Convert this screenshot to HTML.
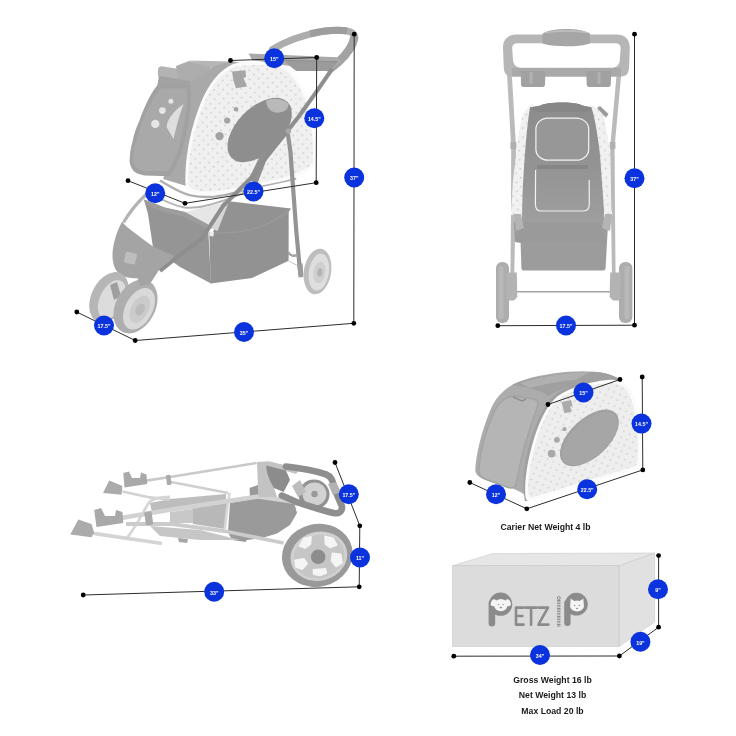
<!DOCTYPE html>
<html><head><meta charset="utf-8">
<style>
html,body{margin:0;padding:0;background:#fff;}
body{width:736px;height:736px;overflow:hidden;font-family:"Liberation Sans",sans-serif;}
svg{display:block;position:absolute;left:0;top:0;}
.ln{stroke:#2c2c2c;stroke-width:1;fill:none;}
.dt{fill:#000;}
.bc{fill:#0b33dd;}
.bt{fill:#fff;font-family:"Liberation Sans",sans-serif;font-weight:bold;font-size:5.3px;text-anchor:middle;}
.cap{fill:#1a1a1a;font-family:"Liberation Sans",sans-serif;font-weight:bold;font-size:8.7px;text-anchor:middle;}
</style></head>
<body>
<svg width="736" height="736" viewBox="0 0 736 736">
<defs>
<pattern id="dots" width="9" height="9" patternUnits="userSpaceOnUse" patternTransform="rotate(-3)">
<circle cx="2.2" cy="2.2" r="0.85" fill="#cacaca"/><circle cx="6.7" cy="6.7" r="0.85" fill="#cacaca"/>
</pattern>
<filter id="soft"><feGaussianBlur stdDeviation="0.45"/></filter>
<filter id="soft2"><feGaussianBlur stdDeviation="0.28"/></filter>
<pattern id="dots2" width="9" height="9" patternUnits="userSpaceOnUse" patternTransform="rotate(-20)">
<circle cx="2.2" cy="2.2" r="0.9" fill="#cfcfcf"/><circle cx="6.7" cy="6.7" r="0.9" fill="#cfcfcf"/>
</pattern>
<linearGradient id="gbody" x1="0" y1="0" x2="0" y2="1"><stop offset="0" stop-color="#8c8c8c"/><stop offset="0.5" stop-color="#939393"/><stop offset="1" stop-color="#9f9f9f"/></linearGradient>
</defs>
<rect width="736" height="736" fill="#fff"/>

<!--PRODUCTS-->
<g id="products" filter="url(#soft)">
<!--TL-->
<g id="tl">
<!-- handle top arc -->
<path d="M272.5 49.5C284 42 300 35.6 322 31.6C336 29.6 348 29.6 352.6 33.2C354.6 35 354.8 37.5 354 40" stroke="#adadad" stroke-width="7" fill="none" stroke-linecap="round"/>
<path d="M310 33.6C322 31 338 29.6 347 31" stroke="#9d9d9d" stroke-width="7" fill="none"/>
<path d="M354.2 38C353 45 347 54 339 61.5L330.5 68.5" stroke="#a2a2a2" stroke-width="8.4" fill="none" stroke-linecap="round"/>
<!-- tray -->
<path d="M248.6 53.5L337 57.2L342 61.5L329.5 71L296.5 71L290 66L252 60Z" fill="#a9a9a9"/>
<path d="M285 60.5L338 61.7L329.5 71L296.5 71L290 66Z" fill="#9b9b9b"/>
<path d="M252 59.7L337 61.7" stroke="#8f8f8f" stroke-width="1" fill="none"/>
<!-- rear wheel -->
<g transform="rotate(9 317.5 271.5)">
<ellipse cx="317.5" cy="271.5" rx="13.6" ry="23" fill="#bdbdbd"/>
<ellipse cx="319" cy="271.8" rx="10" ry="18.6" fill="#dedede"/>
<ellipse cx="319.6" cy="272" rx="6" ry="11" fill="#cfcfcf"/>
<ellipse cx="320" cy="272" rx="2.6" ry="4.2" fill="#b4b4b4"/>
</g>
<!-- carrier support bars -->
<path d="M160 180.6C172 188 182 193.6 190.6 195.4C200 197.2 208 197.2 215 196.6C224 195.6 230 194.2 236 192.4L264.4 185.4L296.2 178.6" stroke="#b0b0b0" stroke-width="2.4" fill="none"/>
<path d="M150 193C162 200 174 205.6 184.4 207.5C194 208.6 202 207 208.9 205C216 203 222 201 228.5 198.9L246 192" stroke="#b3b3b3" stroke-width="2" fill="none"/>
<!-- basket -->
<path d="M227 201L291 208.4L288.7 212L262 236L212 236L222 203Z" fill="#929292"/>
<path d="M222 203L228.5 203L217.5 231L210 228Z" fill="#d6d6d6"/>
<path d="M185 212L222 203L210.6 226.5Z" fill="#e6e6e6"/>
<path d="M144 199.6L164.5 207.6L184.8 212L208 224.4L211 283.6L180 267L153 247.5L148 214Z" fill="#959595"/>
<path d="M144 199.6L164.5 207.6L184.8 212L208 224.4L208.4 229.6L184.8 217L164.5 212.4L145.5 204.8Z" fill="#9d9d9d"/>
<path d="M209.3 232.6C230 234 262 232 288.7 210.7L288.6 260.8L252 278L210.6 283.6Z" fill="#929292"/>
<path d="M209.3 232.6C230 234 262 232 288.7 210.7" stroke="#9b9b9b" stroke-width="1.3" fill="none"/>
<path d="M209.5 231L214 232.2L213.4 236.4L209.6 236Z" fill="#eee"/>
<!-- footrest -->
<path d="M122 221.8C127 228 140 237 153 246.5L171 254.5L175 256C168 262 160 268 157 273C155 276.5 150 278.3 139 278.3C130 278.6 122 277 118 272.5C113.5 268 112 260 112.6 252C113.5 242 117 231 122 221.8Z" fill="#a4a4a4"/>
<rect x="124.7" y="252.5" width="11.5" height="11" rx="1.5" fill="#bdbdbd" transform="rotate(14 130 258)"/>
<!-- front fork tube -->
<path d="M146 194.5C137 203 129 213 123.5 222.5" stroke="#b4b4b4" stroke-width="3.2" fill="none"/>
<!-- carrier: roll/top -->
<path d="M158 70C158 67 160.5 66 163 66.4L176 68.6C178.5 69 179.5 71 179 73.5L178.4 78C178 80 176 80.4 174 80L160 77.6C158 77.2 157.6 75 158 70Z" fill="#b3b3b3"/>
<path d="M176 66L189 61L212 66.5L206 73L190.5 84L178 80Z" fill="#adadad"/>
<path d="M188.4 60.4L230 61.5L212 67.6Z" fill="#b6b6b6"/>
<!-- carrier strip between panel and D -->
<path d="M190 83.6L213 66.5L231 61L244 63.5C228 66 216 80 206 99C196 121 189 148 186 174L186.5 186L163 179C172 160 181 130 187 103Z" fill="#a9a9a9"/>
<path d="M186 181C187 150 195 120 206 98C216 79 229 66 245 63.4" fill="none" stroke="#9d9d9d" stroke-width="2.6"/>
<path d="M159 76L190 81L190.5 87L157 87Z" fill="#a2a2a2"/>
<!-- front panel -->
<path d="M158 84.5L189.8 84.5C191 90 191 97 190.7 103C189.6 115 188 125 187.1 129.5C185 140 183 148 180 156C177 164 174 170 171.2 173.7L169.5 176.3L144.7 175.4C138 174.6 133 172 131.4 167.6C129.6 164 129.3 161 129.7 158.5C130 152 131 147 132.4 141.9C134 134 136 128 139.4 120.7C142 113 145 106 148.3 99.5C151 94 154 89 158 84.5Z" fill="#a1a1a1"/>
<path d="M160.5 88.5L186.6 88.5C187.6 96 187 104 186 112C184.5 124 181.5 140 177 153C174.5 160 171.5 166 168 171.5L146 171C139 170.4 134.6 167.5 133.6 163.5C132.4 158 134 149 136 141.5C139 130 144 116 150 104.5C153 98.5 156.5 93 160.5 88.5Z" fill="#a9a9a9"/>
<circle cx="170.9" cy="101.2" r="2.5" fill="#e6e6e6"/><circle cx="162.4" cy="110.6" r="3.3" fill="#e6e6e6"/><circle cx="155.3" cy="123.9" r="4.2" fill="#e6e6e6"/>
<path d="M183.6 103.9C172.5 111.5 166 121.5 166.8 127.5L173.5 139C176 128 180 113 183.6 103.9Z" fill="#dedede"/>
<!-- side D -->
<path d="M186.6 188.4C185.2 186 185.2 180 185.3 176C186 150 192 125 200.5 103.5C208 85 219 70.5 232 64.5C238 62 250 61.5 262 62C274 62.5 283 64 288 68C297 75 304.5 88 309.5 104C314 119 316.2 140 316 156C316 163 314.6 167.4 311 169.8C306 173 300 176 294 178.2C284 181 274 183 264 185C252 187.8 242 190.2 233 191.6C226 193.2 220 194.2 214 194.4C206 194.6 200 194.4 196 193.4C191 192.2 188 190.6 186.6 188.4Z" fill="#fbfbfb"/>
<path d="M189.4 186.2C188.4 184.4 188.2 179 188.3 175C189 150.5 194.8 126 203.2 104.8C210.4 87 220.8 73.4 233.2 67.6C239 65.2 250 64.6 262 65.1C273 65.6 281.4 67 286 70.6C294.4 77.2 301.8 89.6 306.6 105C311 119.6 313.2 140 313 155C313 161 312 164.6 309.2 166.6C304.6 169.8 299 172.8 293 175C283.4 177.8 273.4 179.8 263.4 181.8C251.4 184.6 241.4 187 232.4 188.4C225.6 190 219.8 191 214 191.2C206.4 191.4 200.8 191.2 197 190.4C193 189.6 190.6 188.2 189.4 186.2Z" fill="#f0f0f0"/>
<path d="M189.4 186.2C188.4 184.4 188.2 179 188.3 175C189 150.5 194.8 126 203.2 104.8C210.4 87 220.8 73.4 233.2 67.6C239 65.2 250 64.6 262 65.1C273 65.6 281.4 67 286 70.6C294.4 77.2 301.8 89.6 306.6 105C311 119.6 313.2 140 313 155C313 161 312 164.6 309.2 166.6C304.6 169.8 299 172.8 293 175C283.4 177.8 273.4 179.8 263.4 181.8C251.4 184.6 241.4 187 232.4 188.4C225.6 190 219.8 191 214 191.2C206.4 191.4 200.8 191.2 197 190.4C193 189.6 190.6 188.2 189.4 186.2Z" fill="url(#dots)"/>
<!-- buckle + buttons -->
<path d="M232 71.5L245.5 70.3L246 77L243.5 78L247 86.5L236 88.2L233.5 81Z" fill="#a6a6a6"/>
<circle cx="236" cy="109.3" r="2.3" fill="#a3a3a3"/><circle cx="227.2" cy="120.5" r="3.1" fill="#a3a3a3"/><circle cx="219.6" cy="136.1" r="4.2" fill="#a3a3a3"/>
<!-- oval -->
<ellipse cx="259.8" cy="129.6" rx="39.6" ry="22.6" transform="rotate(-45 260.2 130)" fill="#8e8e8e"/>
<path d="M266 101C272 97.5 283 98 288.4 104C289 109 284 112.6 277 112.8C271 112.6 266.6 108 266 101Z" fill="#b9b9b9"/>
<!-- rear leg -->
<path d="M287.4 131L290.4 151.4L293 186.7L296.2 230.2L300.4 275" stroke="#949494" stroke-width="4.2" fill="none" stroke-linejoin="round"/>
<path d="M288 260.5L299 266.5" stroke="#c4c4c4" stroke-width="1"/>
<path d="M288.5 252C289.5 255.5 293 256.5 297.5 255" stroke="#a2a2a2" stroke-width="2.4" fill="none"/>
<path d="M297.2 264L302.6 263.6L303.4 277L298.6 277.4Z" fill="#9c9c9c"/>
<path d="M262.6 150L269 153.6L257.6 183L248.4 180Z" fill="#909090"/>
<!-- main diagonal frame tube -->
<path d="M332.2 68.8L316 92.3L298.6 116.7L284.2 135L264.6 159.5L251 178L222.8 206.3L201.7 238.9L180 254.6L160 271" stroke="#8e8e8e" stroke-width="4.1" fill="none" stroke-linejoin="round"/>
<circle cx="288.4" cy="131" r="2.8" fill="#a9a9a9"/>
<!-- front wheels -->
<g transform="rotate(26 109 297.5)">
<ellipse cx="109" cy="297.5" rx="17.6" ry="27" fill="#b6b6b6"/>
<ellipse cx="112.5" cy="298" rx="12" ry="20.6" fill="#dcdcdc"/>
</g>
<path d="M110 285L117 282L121 296L114 300Z" fill="#9f9f9f"/>
<g transform="rotate(28 135.5 306.5)">
<ellipse cx="135.5" cy="306.5" rx="19.8" ry="28.6" fill="#aeaeae"/>
<ellipse cx="139.6" cy="306.8" rx="13.6" ry="22.4" fill="#d9d9d9"/>
<ellipse cx="140.4" cy="307" rx="8.6" ry="14.6" fill="#cbcbcb"/>
<ellipse cx="141" cy="307" rx="4.4" ry="6.2" fill="#bbbbbb"/>
</g>
<path d="M137 276L157 273L150 284L140 286Z" fill="#a4a4a4"/>
</g>
<!--TR-->
<g id="front">
<!-- side tubes -->
<path d="M506.8 70L511.6 70L516 147L515.5 215L514.2 276L510.4 276L511 215L511.2 147Z" fill="#bababa"/>
<path d="M617 70L621.6 70L614.6 147L615 215L615.6 276L612 276L611 215L610.2 147Z" fill="#bababa"/>
<rect x="510.4" y="142" width="6" height="7" fill="#b0b0b0"/><rect x="609.8" y="142" width="5.6" height="7" fill="#b0b0b0"/>
<!-- dotted side strips -->
<path d="M532 103.5C527 108 524.5 111 523.2 114.3C520.5 123 518.8 133 517.7 141.5L513 180L510.8 215L526 215L530 165L536 108Z" fill="#f1f1f1"/>
<path d="M532 103.5C527 108 524.5 111 523.2 114.3C520.5 123 518.8 133 517.7 141.5L513 180L510.8 215L526 215L530 165L536 108Z" fill="url(#dots)"/>
<path d="M590 105C597 108 601.5 111 603.3 114C606 125 608.5 140 610 152L611.4 209L612.6 215L598 215L596 165L588 108Z" fill="#f1f1f1"/>
<path d="M590 105C597 108 601.5 111 603.3 114C606 125 608.5 140 610 152L611.4 209L612.6 215L598 215L596 165L588 108Z" fill="url(#dots)"/>
<!-- handle -->
<path fill-rule="evenodd" fill="#b6b6b6" d="M503 48C503 39 508 34.5 517 34.5L616 34.5C625 34.5 629.8 39 629.8 48L629 68C628.6 74 626 76.4 621 76.4L512 76.4C507 76.4 504.2 74 503.8 68ZM512.2 49L513 60C513.6 65.5 517 67.8 522 67.8L611 67.8C616 67.8 619.4 65.5 619.8 60L620.6 49C620.9 45 619 43.2 615 43.2L518 43.2C514 43.2 512 45 512.2 49Z"/>
<path d="M512 68L621 68L621 76.4L512 76.4Z" fill="#a9a9a9"/>
<!-- grip -->
<path d="M542.5 33.5C550 29.5 560 29 566 29C574 29 583 29.8 590 33.5L590 43.5C583 46 574 46.2 566 46.2C558 46.2 550 45.8 542.5 43.5Z" fill="#a6a6a6"/>
<path d="M546 32.8C556 30.2 576 30.2 587 32.8" fill="none" stroke="#bdbdbd" stroke-width="1.6"/>
<!-- cup holders -->
<path d="M520.7 71L545.4 71L545 84.5C545 86.5 543.6 87 541.5 87L524.5 87C522.4 87 521 86.5 521 84.5Z" fill="#a1a1a1"/>
<path d="M586.3 71L611.2 71L610.8 84.5C610.8 86.5 609.4 87 607.3 87L590.2 87C588.1 87 586.7 86.5 586.7 84.5Z" fill="#a1a1a1"/>
<rect x="529.5" y="72" width="3" height="12" fill="#b2b2b2"/><rect x="597.5" y="72" width="3" height="12" fill="#b2b2b2"/>
<!-- basket upper -->
<path d="M513.8 222L608.2 222L607 242L605.6 268C605.4 270.3 604 270.6 602 270.6L525 270.6C523 270.6 521.6 270.3 521.4 268L520.6 243L515 242Z" fill="#9c9c9c"/>
<!-- body -->
<path d="M540.7 105.6C546 101.6 577 101.6 582.6 105.6L591.5 107.5C595 118 598.5 140 600 155L604 210L604 226L521.8 226L522.4 200C524 160 527 125 530 107.5Z" fill="url(#gbody)"/>
<path d="M540.7 105.6C546 101.6 577 101.6 582.6 105.6L591.5 107.5L586 112L537 112L530 107.5Z" fill="#878787"/>
<path d="M524 222L599.5 222L606 242L516 242Z" fill="#9a9a9a"/>
<!-- clips -->
<path d="M514 214L521 214L524 228L516 231Z" fill="#b4b4b4"/><path d="M612 214L605 214L602 228L610 231Z" fill="#b4b4b4"/>
<path d="M597 108L600 106L608.5 114L606 117.5Z" fill="#9a9a9a"/>
<!-- window -->
<rect x="535.9" y="118.2" width="52.8" height="42" rx="12" ry="11" fill="#979797" stroke="#f4f4f4" stroke-width="1.2"/>
<!-- pocket -->
<path d="M535.6 170L535.4 204C535.4 209 537.5 211 541 211L583.5 211C587 211 589.3 209 589.3 204L589.2 180" fill="none" stroke="#f2f2f2" stroke-width="1.2"/>
<rect x="537" y="165" width="51" height="4" fill="#868686"/>
<!-- wheels -->
<rect x="496" y="262" width="13" height="61" rx="6" fill="#adadad"/>
<rect x="619" y="262" width="13.4" height="61" rx="6" fill="#adadad"/>
<rect x="498.5" y="266" width="5" height="53" rx="2.5" fill="#b8b8b8"/>
<rect x="624.5" y="266" width="5" height="53" rx="2.5" fill="#b8b8b8"/>
<!-- brackets -->
<path d="M506.5 272.5L516.8 272.5L517.3 297L514 300.5L507 300.5Z" fill="#b3b3b3"/>
<path d="M620.8 272.5L610.2 272.5L609.6 297L613 300.5L620 300.5Z" fill="#b3b3b3"/>
<path d="M517 291.8L610 291.8" stroke="#a4a4a4" stroke-width="1.6"/>
</g>
<!--BL-->
<g id="folded">
<!-- light fabric upper -->
<path d="M150 503L170 499L226 494L226 506L170 511L152 513Z" fill="#bdbdbd"/>
<path d="M170 512L193 509L193 523L170 523Z" fill="#c8c8c8"/>
<!-- folded basket fabric -->
<path d="M193 509L227 503L225 529L193 524Z" fill="#b8b8b8"/>
<path d="M230 503L258 498L294 502L297 513L290 525L277 533.5L262 538L247 540L228 531Z" fill="#9a9a9a"/>
<path d="M249.5 488L258 485L262 494L250 497Z" fill="#999"/>
<path d="M228.3 532.7L247.7 536L246 542L232 540Z" fill="#9a9a9a"/>
<path d="M178 538L188 539L187 543L179 542Z" fill="#a6a6a6"/>
<path d="M150 526L200 530L240 540L200 540L160 536Z" fill="#c6c6c6"/>
<!-- thin upper tubes -->
<path d="M146.3 480.6L170 477L256.6 463" stroke="#c9c9c9" stroke-width="2.6" fill="none"/>
<path d="M168.4 481.5L228.3 493" stroke="#cfcfcf" stroke-width="2.4" fill="none"/>
<path d="M122.4 491.5L149.8 497.4L170 499.5" stroke="#d2d2d2" stroke-width="2.6" fill="none"/>
<!-- curved tube -->
<path d="M170 497C158 497 151 499 148 504C141 516 134 530 126.8 538" stroke="#d6d6d6" stroke-width="2.8" fill="none"/>
<!-- vertical connector -->
<path d="M229.6 493L227 510L224.8 529.2" stroke="#d8d8d8" stroke-width="2.6" fill="none"/>
<!-- main tubes -->
<path d="M122.4 517.7L170 509.8L258.3 496.5L296 502" stroke="#d2d2d2" stroke-width="4.6" fill="none" stroke-linejoin="round"/>
<path d="M95 533.6L160.4 543.3" stroke="#d4d4d4" stroke-width="3.6" fill="none" stroke-linecap="round"/>
<path d="M126 524L170 523.9L224 531L283.6 543" stroke="#cbcbcb" stroke-width="3.8" fill="none" stroke-linejoin="round"/>
<!-- feet and clips -->
<path d="M103 493L109.2 480.6L122.4 485.9L121.5 494.8Z" fill="#ababab"/>
<path d="M123.3 473L129 471.5L132 478L140 478L141 472.5L146.5 474.5L147.2 484L124.5 487.5Z" fill="#a9a9a9"/>
<path d="M70.3 534.5L78.3 519.5L91.5 523.9L94.2 532.7L91.5 537.2Z" fill="#ababab"/>
<path d="M94.2 510L101 508L105 516L115 516L116 510L122.5 512L123.3 523L96.5 527Z" fill="#a9a9a9"/>
<rect x="166.4" y="475" width="4.6" height="10" rx="1" fill="#aaa" transform="rotate(-8 168.4 480)"/>
<rect x="145" y="511.5" width="7.4" height="13.5" rx="1.2" fill="#aaa" transform="rotate(-8 148.7 518)"/>
<!-- tray -->
<path d="M257 462L269 461.2L300 469L296 474L276 468L271 478L277 497L258.3 497Z" fill="#c3c3c3"/>
<path d="M266.3 465.6L286 470.5L290 480L283.6 492L274 488C269 480 266 472 266.3 465.6Z" fill="#8c8c8c"/>
<!-- small inner wheel -->
<ellipse cx="314" cy="494.5" rx="15.5" ry="15" fill="#929292"/>
<ellipse cx="314.5" cy="494" rx="12" ry="11.5" fill="#d2d2d2"/>
<circle cx="314.5" cy="494" r="3.2" fill="#9a9a9a"/>
<path d="M292 486L300 480L306 492L298 497Z" fill="#bdbdbd"/>
<!-- handle loop -->
<path d="M286 466.5C300 468 316 471 326 474.4C331 476.5 332.5 480 334 486C336 494 339.5 500 341.9 506.2C342.6 510.5 340 513.5 334.8 513.3C318 509.5 305 504.5 296 501.8L281.8 495.6" stroke="#8e8e8e" stroke-width="6.6" fill="none" stroke-linejoin="round" stroke-linecap="round"/>
<path d="M328 484L336 482L341 492L333 495Z" fill="#b3b3b3"/>
<!-- big wheel -->
<g transform="rotate(-14 317.3 555.4)">
<ellipse cx="317.3" cy="555.4" rx="35.6" ry="31.4" fill="#999999"/>
<ellipse cx="318.6" cy="556.6" rx="28.6" ry="24.4" fill="#d0d0d0"/>
<ellipse cx="318.8" cy="556.8" rx="25.6" ry="21.4" fill="#c6c6c6"/>
</g>
<g fill="#f5f5f5" stroke="#f5f5f5" stroke-width="1.6" stroke-linejoin="round">
<path d="M299.5 546L304 538.5L311 536.8L310.5 544L305 548Z"/>
<path d="M325 536.4L333 538.2L336.8 545L330 547.4L325.5 544Z"/>
<path d="M332.4 553.4L340.6 554.4L342 563L336 566.6L331.6 561Z"/>
<path d="M313.4 569.8L325.4 568.8L326.4 573L320 575.4L313.8 574.2Z"/>
<path d="M295 560.2L304 558.8L307.2 564L302 569.2L296 567Z"/>
</g>
<circle cx="318.2" cy="556.8" r="7.3" fill="#8d8d8d"/>
</g>
<!--CARRIER-->
<g id="carrier">
<!-- outer silhouette (roof + front) -->
<path d="M475.2 471C475.8 455 481.5 431 490.5 409.8C497 394.5 507.5 385 526 379.3C548 372.5 585 368.5 606 373.5C613 375.5 618 377.5 621.5 380.5L560 400L530 500C524 492 512 487.5 496 483.3C486 480.5 477 478 475.2 471Z" fill="#acacac"/>
<!-- roof darker top band -->
<path d="M512 385C530 376 585 369 606 373.5C613 375.5 618 377.5 621.5 380.5C600 377.5 570 383 548 396C542 390 520 386 512 385Z" fill="#a0a0a0"/>
<path d="M520 383C540 376.5 570 372 590 372L575 380C560 381 540 385 530 388Z" fill="#b0b0b0"/>
<!-- front panel -->
<path d="M479 469C480 452 486 430 494 412C499 402 506 396.5 515 396L533 399C538 400 539 403 537 408C528 432 520 462 516 484C515 488 512 488.5 508 487.5L484 478.5C480 477 478.8 474 479 469Z" fill="#b5b5b5" stroke="#a3a3a3" stroke-width="1.4"/>
<path d="M513 397L522 401L526 399" fill="none" stroke="#8f8f8f" stroke-width="1.4"/>
<!-- edge band near D -->
<path d="M526.6 501C522.5 480 526 460 533.3 436.3C539 420 546 404.5 556.7 395.6C572 385 592 380 608 378.5" fill="none" stroke="#a0a0a0" stroke-width="3.4"/>
<!-- side D -->
<path id="cD" d="M530 501.2C526.8 501.5 525.3 499 525.2 494C524.6 478 527.6 460 534.3 437.5C540 420.5 546.6 405.5 557.2 396.4C571 386.5 591 381.6 607 379.9C618.5 378.6 626.5 382 631.6 391C637.5 403 640.6 424 641 445C641.1 456 640.8 462 640 465.5C639.5 467.8 638.6 468.7 636.5 469.3Z" fill="#fbfbfb"/>
<path d="M531.5 497.6C529.2 497.8 528.2 496 528.1 492.6C527.7 478 530.4 460.5 536.8 439C542.3 422.5 548.6 408 558.7 399.2C572 389.7 591.4 385 606.8 383.3C616.8 382.2 624 385.4 628.8 393.6C634.4 405 637.4 424.5 637.8 445C637.9 455 637.7 460.5 637 463.6C636.6 465.4 635.9 466.2 634.4 466.6Z" fill="#eeeeee"/>
<path d="M531.5 497.6C529.2 497.8 528.2 496 528.1 492.6C527.7 478 530.4 460.5 536.8 439C542.3 422.5 548.6 408 558.7 399.2C572 389.7 591.4 385 606.8 383.3C616.8 382.2 624 385.4 628.8 393.6C634.4 405 637.4 424.5 637.8 445C637.9 455 637.7 460.5 637 463.6C636.6 465.4 635.9 466.2 634.4 466.6Z" fill="url(#dots2)"/>
<!-- oval -->
<ellipse cx="589.4" cy="437.9" rx="36.2" ry="19.2" transform="rotate(-43 589.4 437.9)" fill="#a1a1a1"/>
<ellipse cx="589.8" cy="438.6" rx="34.4" ry="17.4" transform="rotate(-43 589.8 438.6)" fill="#a6a6a6"/>
<!-- buttons -->
<circle cx="564.5" cy="429.2" r="2.1" fill="#a9a9a9"/><circle cx="556.9" cy="439.8" r="2.9" fill="#a9a9a9"/><circle cx="551.6" cy="453.6" r="3.9" fill="#a9a9a9"/>
<!-- buckle -->
<path d="M561.5 402L571 400L572.6 405.5L570 407L572 411.5L564.5 413.2Z" fill="#ababab"/>
</g>
<!--BOX-->
<g id="box">
<polygon points="452.5,565.8 492.5,553.6 654.6,553 619,566" fill="#e6e6e6" stroke="#c9c9c9" stroke-width="0.6"/>
<polygon points="619,566 654.6,553 654.6,622 619,646.5" fill="#e1e1e1" stroke="#c9c9c9" stroke-width="0.6"/>
<rect x="452.5" y="565.8" width="166.5" height="80.7" fill="#dcdcdc" stroke="#c6c6c6" stroke-width="0.6"/>
<g fill="#8b8b8b" stroke="none">
<!-- left P -->
<rect x="488.6" y="600" width="6.6" height="26.6" rx="3.3"/>
<circle cx="500.6" cy="604.2" r="11.6"/>
<!-- dog face -->
<g fill="#f4f4f4">
<ellipse cx="500.8" cy="605.6" rx="6.6" ry="5.6"/>
<ellipse cx="493.6" cy="602.8" rx="2.6" ry="3.6" transform="rotate(25 493.6 602.8)"/>
<ellipse cx="508" cy="602.8" rx="2.6" ry="3.6" transform="rotate(-25 508 602.8)"/>
<path d="M494.5 601.5Q500.8 596.5 507 601.5L505 604L496.5 604Z"/>
</g>
<circle cx="498.4" cy="604.6" r="0.7"/><circle cx="503.2" cy="604.6" r="0.7"/><ellipse cx="500.8" cy="607.6" rx="1.2" ry="0.8"/>
<!-- right P -->
<rect x="564.2" y="600" width="6.4" height="26" rx="3.2"/>
<circle cx="576.4" cy="604.2" r="11.4"/>
<g fill="#f4f4f4">
<ellipse cx="577" cy="606" rx="7" ry="5.4"/>
<path d="M570.3 605L570.6 598.6L575 601.6Z"/><path d="M583.7 605L583.4 598.6L579 601.6Z"/>
</g>
<circle cx="574.6" cy="605.4" r="0.7"/><circle cx="579.4" cy="605.4" r="0.7"/><ellipse cx="577" cy="608.4" rx="1" ry="0.7"/>
</g>
<!-- ETZ -->
<g fill="none" stroke="#8b8b8b" stroke-width="2.6" stroke-linecap="round" stroke-linejoin="round">
<path d="M523.6 607.6L516 607.6L516 624.6L523.6 624.6M516 616L522.4 616"/>
<path d="M525.6 607.6L536.6 607.6M531.1 607.6L531.1 624.8"/>
<path d="M538.6 607.6L548 607.6L538.4 624.6L548.4 624.6"/>
</g>
<!-- zipper i -->
<g fill="none" stroke="#8b8b8b">
<circle cx="558.8" cy="598" r="1.5" stroke-width="1"/>
<path d="M558.8 600L558.8 627" stroke-width="3.4" stroke-dasharray="0.9 0.7"/>
</g>
</g>
</g>

<!-- DIMENSIONS -->
<g id="dims">
<!-- TL stroller -->
<path class="ln" d="M230.5 60.5L316.7 57.5L316.2 182.7L185 203.3L128 180.7M354.2 34.2L353.8 323.3L135.2 340.5L76.8 312"/>
<g class="dt"><circle cx="230.5" cy="60.5" r="2.4"/><circle cx="316.7" cy="57.5" r="2.4"/><circle cx="316.2" cy="182.7" r="2.4"/><circle cx="185" cy="203.3" r="2.4"/><circle cx="128" cy="180.7" r="2.4"/><circle cx="354.2" cy="34.2" r="2.4"/><circle cx="353.8" cy="323.3" r="2.4"/><circle cx="135.2" cy="340.5" r="2.4"/><circle cx="76.8" cy="312" r="2.4"/></g>
<g class="bc"><circle cx="274.2" cy="58.2" r="10"/><circle cx="314.3" cy="118.3" r="10"/><circle cx="354.2" cy="177.5" r="10"/><circle cx="253.5" cy="191.5" r="10"/><circle cx="155.2" cy="193.2" r="10"/><circle cx="104" cy="325.5" r="10"/><circle cx="244" cy="332" r="10"/></g>
<g class="bt"><text x="274.2" y="60.9">15"</text><text x="314.3" y="121">14.5"</text><text x="354.2" y="180.2">37"</text><text x="253.5" y="194.2">22.5"</text><text x="155.2" y="195.9">12"</text><text x="104" y="328.2">17.5"</text><text x="244" y="334.7">35"</text></g>
<!-- TR front -->
<path class="ln" d="M634.5 34.2L634.5 325.2L497.8 325.7"/>
<g class="dt"><circle cx="634.5" cy="34.2" r="2.4"/><circle cx="634.5" cy="325.2" r="2.4"/><circle cx="497.8" cy="325.7" r="2.4"/></g>
<g class="bc"><circle cx="634.5" cy="178.2" r="10"/><circle cx="566" cy="325.5" r="10"/></g>
<g class="bt"><text x="634.5" y="180.9">37"</text><text x="566" y="328.2">17.5"</text></g>
<!-- BL folded -->
<path class="ln" d="M83.2 595L359.2 586.8L359.8 525.8L335 462.5"/>
<g class="dt"><circle cx="83.2" cy="595" r="2.4"/><circle cx="359.2" cy="586.8" r="2.4"/><circle cx="359.8" cy="525.8" r="2.4"/><circle cx="335" cy="462.5" r="2.4"/></g>
<g class="bc"><circle cx="214.2" cy="591.8" r="10"/><circle cx="348.8" cy="494.2" r="10"/><circle cx="360" cy="557.5" r="10"/></g>
<g class="bt"><text x="214.2" y="594.5">33"</text><text x="348.8" y="496.9">17.5"</text><text x="360" y="560.2">11"</text></g>
<!-- carrier -->
<path class="ln" d="M469.8 482.5L526.8 508.8L642.8 469.9L642.2 377M548 404.5L620 379.5"/>
<g class="dt"><circle cx="469.8" cy="482.5" r="2.4"/><circle cx="526.8" cy="508.8" r="2.4"/><circle cx="642.8" cy="469.9" r="2.4"/><circle cx="642.2" cy="377" r="2.4"/><circle cx="548" cy="404.5" r="2.4"/><circle cx="620" cy="379.5" r="2.4"/></g>
<g class="bc"><circle cx="496" cy="494.2" r="10"/><circle cx="587.2" cy="489.2" r="10"/><circle cx="583.5" cy="392.5" r="10"/><circle cx="641.5" cy="423.6" r="10"/></g>
<g class="bt"><text x="496" y="496.9">12"</text><text x="587.2" y="491.9">22.5"</text><text x="583.5" y="395.2">15"</text><text x="641.5" y="426.3">14.5"</text></g>
<!-- box -->
<path class="ln" d="M453.8 656.2L619.4 656L658.6 627.2L658.6 555.6"/>
<g class="dt"><circle cx="453.8" cy="656.2" r="2.4"/><circle cx="619.4" cy="656" r="2.4"/><circle cx="658.6" cy="627.2" r="2.4"/><circle cx="658.6" cy="555.6" r="2.4"/></g>
<g class="bc"><circle cx="540" cy="655" r="10"/><circle cx="658" cy="589.2" r="10"/><circle cx="640.4" cy="641.8" r="10"/></g>
<g class="bt"><text x="540" y="657.7">34"</text><text x="658" y="591.9">9"</text><text x="640.4" y="644.5">19"</text></g>
</g>
<!-- captions -->
<text class="cap" x="545.5" y="529.5">Carier Net Weight 4 lb</text>
<text class="cap" x="552.5" y="682.5">Gross Weight 16 lb</text>
<text class="cap" x="552.5" y="698.3">Net Weight 13 lb</text>
<text class="cap" x="552.5" y="714.2">Max Load 20 lb</text>
</svg>
</body></html>
